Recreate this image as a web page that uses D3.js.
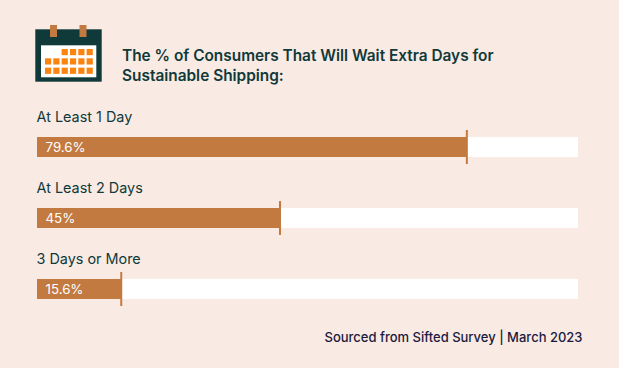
<!DOCTYPE html>
<html>
<head>
<meta charset="utf-8">
<script src="https://cdn.jsdelivr.net/npm/d3@7"></script>
<style>
    html, body { margin: 0; padding: 0; background: #f9ebe4; }
    svg { display: block; }
    text { font-family: Inter, sans-serif; }
</style>
</head>
<body>
<svg id="drawing_region"></svg>
<script>
const Categories = ['At Least 1 Day', 'At Least 2 Days', '3 Days or More'];
const Values = [79.6, 45, 15.6];
const ValueLabels = ['79.6%', '45%', '15.6%'];
const TitleLines = ['The % of Consumers That Will Wait Extra Days for', 'Sustainable Shipping:'];
const Source = 'Sourced from Sifted Survey | March 2023';

const width = 619, height = 368;
const dark = '#10393a', navy = '#1b1a40', orange = '#c37a40', bg = '#f9ebe4';

const svg = d3.select('#drawing_region')
    .attr('width', width)
    .attr('height', height);

svg.append('rect')
    .attr('width', width)
    .attr('height', height)
    .attr('fill', bg);

// calendar icon
const icon = svg.append('g');
icon.append('rect').attr('x', 35.3).attr('y', 29.3).attr('width', 66.4).attr('height', 52.4).attr('fill', dark);
icon.append('rect').attr('x', 41).attr('y', 45.3).attr('width', 55.3).attr('height', 32).attr('fill', '#ffffff');
[50, 79.5].forEach(x => {
    icon.append('rect').attr('x', x).attr('y', 25).attr('width', 7).attr('height', 12).attr('fill', orange);
});
// 6 x 3 grid of days, the first two cells of the top row are empty
icon.selectAll('rect.day')
    .data(d3.range(2, 18))
    .join('rect')
    .attr('class', 'day')
    .attr('x', d => 45 + (d % 6) * 8.32)
    .attr('y', d => 49 + Math.floor(d / 6) * 9.33)
    .attr('width', 6.2)
    .attr('height', 6.2)
    .attr('fill', '#fb8411');

// title
svg.append('text')
    .attr('fill', dark)
    .attr('font-size', 15.4)
    .attr('font-weight', 600)
    .selectAll('tspan')
    .data(TitleLines)
    .join('tspan')
    .attr('x', 122)
    .attr('y', (d, i) => 60.5 + i * 20.3)
    .text(d => d);

// bars
const trackEnd = 578;
const barHeight = 20;
const xscale = d3.scaleLinear().domain([0, 100]).range([37, 577]);
const yscale = d3.scaleBand().domain(Categories).range([137, 350]);

const rows = svg.selectAll('g.row')
    .data(Categories.map((c, i) => ({ category: c, value: Values[i], label: ValueLabels[i] })))
    .join('g')
    .attr('class', 'row');

rows.append('text')
    .attr('x', 36.5)
    .attr('y', d => yscale(d.category) - 15.5)
    .attr('fill', dark)
    .attr('font-size', 14.4)
    .attr('font-weight', 400)
    .text(d => d.category);

rows.append('rect')
    .attr('x', xscale(0))
    .attr('y', d => yscale(d.category))
    .attr('width', trackEnd - xscale(0))
    .attr('height', barHeight)
    .attr('fill', '#ffffff');

rows.append('rect')
    .attr('x', xscale(0))
    .attr('y', d => yscale(d.category))
    .attr('width', d => xscale(d.value) - xscale(0))
    .attr('height', barHeight)
    .attr('fill', orange);

rows.append('line')
    .attr('x1', d => xscale(d.value))
    .attr('x2', d => xscale(d.value))
    .attr('y1', d => yscale(d.category) - 7)
    .attr('y2', d => yscale(d.category) + barHeight + 7)
    .attr('stroke', orange)
    .attr('stroke-width', 2);

rows.append('text')
    .attr('x', 45.5)
    .attr('y', d => yscale(d.category) + 15)
    .attr('fill', '#ffffff')
    .attr('font-size', 13.3)
    .text(d => d.label);

// source
svg.append('text')
    .attr('x', 582.5)
    .attr('y', 341.5)
    .attr('text-anchor', 'end')
    .attr('fill', navy)
    .attr('font-size', 13)
    .attr('font-weight', 500)
    .text(Source);
</script>
</body>
</html>
